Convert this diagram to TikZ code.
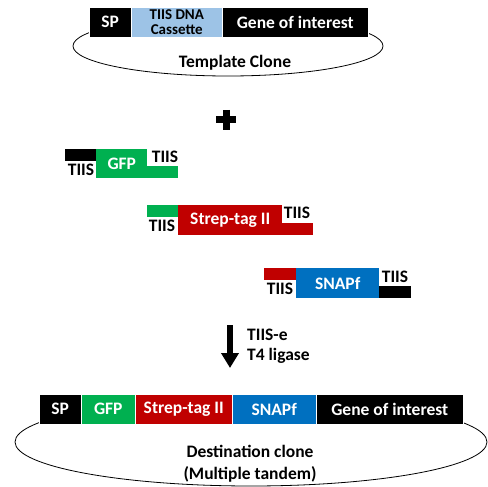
\documentclass[tikz,border=0pt]{standalone}
\usepackage{fontspec}
\setmainfont{Carlito}
\usetikzlibrary{arrows.meta}
\definecolor{gfp_green}{HTML}{00B050}
\definecolor{strep_red}{HTML}{C00000}
\definecolor{snap_blue}{HTML}{0070C0}
\definecolor{cassette_blue}{HTML}{9DC3E6}

\begin{document}
\begin{tikzpicture}[x=1pt,y=-1pt,
    seg/.style={draw=white,line width=0.5pt,inner sep=0,anchor=north west,minimum height=30pt,text=white,font=\bfseries\fontsize{17.5}{14}\selectfont,align=center},
    lbl/.style={inner sep=0,font=\bfseries\fontsize{17.5}{17.5}\selectfont}]
    \useasboundingbox (0,0) rectangle (488,487);
    % template clone
    \draw[thick] (228,46) ellipse [x radius=155,y radius=30];
    \node[seg,fill=black,minimum width=42pt] (tsp) at (89,7) {SP};
    \node[seg,fill=cassette_blue,text=black,minimum width=91pt,font=\bfseries\fontsize{15}{15}\selectfont] (tcas) at (131,7) {TIIS DNA\\Cassette};
    \node[seg,fill=black,minimum width=146pt] (tgoi) at (222,7) {Gene of interest};
    \node[lbl] (tname) at (235,63) {Template Clone};
    % plus
    \draw[line width=7pt] (216,120) -- (236,120) (226,110) -- (226,130);
    % GFP fragment
    \fill[black] (65,149) rectangle (96,161);
    \fill[gfp_green] (147,166) rectangle (178,178);
    \node[seg,fill=gfp_green,draw=none,minimum width=51pt,minimum height=29pt] (gfp) at (96,149) {GFP};
    \node[lbl,anchor=north] (gfpl) at (81,164) {TIIS};
    \node[lbl] (gfpr) at (165,157) {TIIS};
    % Strep-tag II fragment
    \fill[gfp_green] (147,205) rectangle (178,217);
    \fill[strep_red] (282,223) rectangle (313,235);
    \node[seg,fill=strep_red,draw=none,minimum width=104pt] (strep) at (178,205) {Strep-tag II};
    \node[lbl,anchor=north] (strepl) at (162,220) {TIIS};
    \node[lbl] (strepr) at (297,213) {TIIS};
    % SNAPf fragment
    \fill[strep_red] (264,268) rectangle (296,280);
    \fill[black] (379,286) rectangle (411,298);
    \node[seg,fill=snap_blue,draw=none,minimum width=83pt] (snap) at (296,268) {SNAPf};
    \node[lbl,anchor=north] (snapl) at (280,283) {TIIS};
    \node[lbl] (snapr) at (395,277) {TIIS};
    % ligation step
    \coordinate (atop) at (230,325);
    \coordinate (abot) at (230,368);
    \draw[line width=6pt,-{Triangle[width=17pt,length=15pt]}] (atop) -- (abot);
    \node[lbl,anchor=west] (enz) at (247,335) {TIIS-e};
    \node[lbl,anchor=west] (lig) at (247,356) {T4 ligase};
    % destination clone
    \draw[thick] (251,442) ellipse [x radius=236,y radius=44];
    \node[seg,fill=black,minimum width=42pt] (dsp) at (39,394) {SP};
    \node[seg,fill=gfp_green,minimum width=54pt] (dgfp) at (81,394) {GFP};
    \node[seg,fill=strep_red,minimum width=97pt] (dstrep) at (135,394) {Strep-tag II};
    \node[seg,fill=snap_blue,minimum width=84pt] (dsnap) at (232,394) {SNAPf};
    \node[seg,fill=black,minimum width=147pt] (dgoi) at (316,394) {Gene of interest};
    \node[lbl,align=center,font=\bfseries\fontsize{17.5}{22}\selectfont] (dname) at (250,464) {Destination clone\\(Multiple tandem)};
\end{tikzpicture}
\end{document}
